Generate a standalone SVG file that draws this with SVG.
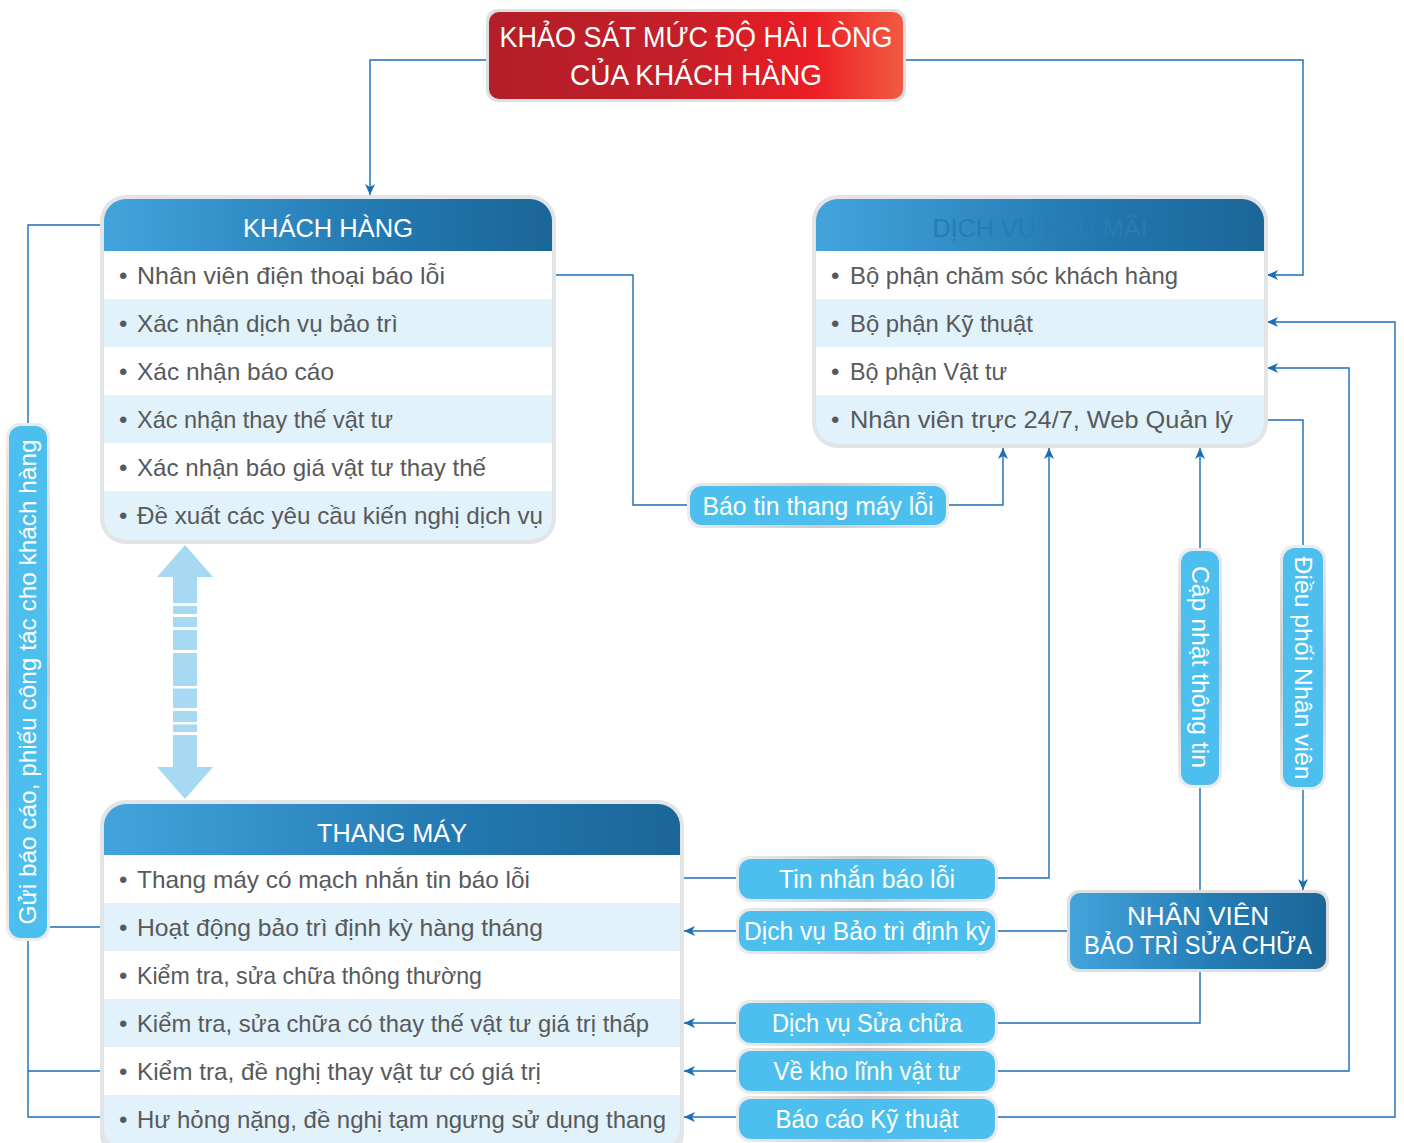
<svg xmlns="http://www.w3.org/2000/svg" width="1404" height="1143" viewBox="0 0 1404 1143">
<defs>
<linearGradient id="red" x1="0" y1="0" x2="1" y2="0">
<stop offset="0" stop-color="#b31e29"/><stop offset="0.45" stop-color="#c41f28"/><stop offset="0.78" stop-color="#ec1d25"/><stop offset="1" stop-color="#f15b42"/>
</linearGradient>
<linearGradient id="hdr" x1="0" y1="0" x2="1" y2="0">
<stop offset="0" stop-color="#43a4dc"/><stop offset="0.6" stop-color="#2379b2"/><stop offset="1" stop-color="#1b6698"/>
</linearGradient>
<linearGradient id="pillH" x1="0" y1="0" x2="1" y2="0">
<stop offset="0" stop-color="#ececec"/><stop offset="0.5" stop-color="#c9cacb"/><stop offset="1" stop-color="#ececec"/>
</linearGradient>
<linearGradient id="pillV" x1="0" y1="0" x2="0" y2="1">
<stop offset="0" stop-color="#ececec"/><stop offset="0.5" stop-color="#c9cacb"/><stop offset="1" stop-color="#ececec"/>
</linearGradient>
<clipPath id="clipKH"><rect x="104" y="199" width="448" height="341" rx="22"/></clipPath>
<clipPath id="clipDV"><rect x="816" y="199" width="448" height="245" rx="22"/></clipPath>
<clipPath id="clipTM"><rect x="104" y="804" width="576" height="346" rx="22"/></clipPath>
<marker id="arr" markerUnits="userSpaceOnUse" markerWidth="12" markerHeight="10" refX="11" refY="5" orient="auto">
<path d="M0,0 L11,5 L0,10 L3,5 z" fill="#1b6db6"/>
</marker>
<style>
.ln{fill:none;stroke:#1b6db6;stroke-width:1.4}
.row{font-family:"Liberation Sans",Arial,sans-serif;font-size:24px;fill:#58595b}
.hd{font-family:"Liberation Sans",Arial,sans-serif;font-size:25px;fill:#ffffff;text-anchor:middle}
.pt{font-family:"Liberation Sans",Arial,sans-serif;font-size:25px;fill:#ffffff;text-anchor:middle}
.border{fill:#e3e4e5}
.blue{fill:#e1f2fa}
.white{fill:#ffffff}
.pill{fill:#4dbfee}
</style>
</defs>
<rect width="1404" height="1143" fill="#ffffff"/>

<g id="connectors">
<polyline class="ln" points="486,60 370,60 370,195" marker-end="url(#arr)"/>
<polyline class="ln" points="906,60 1303,60 1303,275 1267,275" marker-end="url(#arr)"/>
<polyline class="ln" points="28,423 28,225 101,225"/>
<polyline class="ln" points="50,927 101,927"/>
<polyline class="ln" points="28,941 28,1117 101,1117"/>
<polyline class="ln" points="28,1071 101,1071"/>
<polyline class="ln" points="555,275 633,275 633,505 688,505"/>
<polyline class="ln" points="948,505 1003,505 1003,448" marker-end="url(#arr)"/>
<polyline class="ln" points="683,878 737,878"/>
<polyline class="ln" points="998,878 1049,878 1049,448" marker-end="url(#arr)"/>
<polyline class="ln" points="1200,548 1200,448" marker-end="url(#arr)"/>
<polyline class="ln" points="1200,890 1200,788"/>
<polyline class="ln" points="1266,420 1303,420 1303,546"/>
<polyline class="ln" points="1303,790 1303,890" marker-end="url(#arr)"/>
<polyline class="ln" points="1067,931 998,931"/>
<polyline class="ln" points="737,931 684,931" marker-end="url(#arr)"/>
<polyline class="ln" points="1200,972 1200,1023 998,1023"/>
<polyline class="ln" points="737,1023 684,1023" marker-end="url(#arr)"/>
<polyline class="ln" points="998,1071 1349,1071 1349,368 1267,368" marker-end="url(#arr)"/>
<polyline class="ln" points="737,1071 684,1071" marker-end="url(#arr)"/>
<polyline class="ln" points="998,1117 1395,1117 1395,322 1267,322" marker-end="url(#arr)"/>
<polyline class="ln" points="737,1117 684,1117" marker-end="url(#arr)"/>
</g>

<g id="double-arrow">
<polygon points="185,545 213,577 197,577 197,767 213,767 185,799 157,767 173,767 173,577 157,577" fill="#a8d9f3"/>
<g fill="#ffffff">
<rect x="172" y="603" width="26" height="3"/>
<rect x="172" y="614" width="26" height="3"/>
<rect x="172" y="627" width="26" height="3"/>
<rect x="172" y="650" width="26" height="3"/>
<rect x="172" y="686" width="26" height="2.5"/>
<rect x="172" y="708" width="26" height="3"/>
<rect x="172" y="722" width="26" height="2.5"/>
<rect x="172" y="732" width="26" height="3"/>
</g>
</g>

<g id="khao-sat">
<rect x="486" y="9" width="420" height="93" rx="12" fill="#dedfe0"/>
<rect x="489" y="12" width="414" height="87" rx="10" fill="url(#red)"/>
<text class="hd" x="696" y="47" font-size="29" textLength="393" lengthAdjust="spacingAndGlyphs" style="font-size:29px">KHẢO SÁT MỨC ĐỘ HÀI LÒNG</text>
<text class="hd" x="696" y="85" textLength="252" lengthAdjust="spacingAndGlyphs" style="font-size:29px">CỦA KHÁCH HÀNG</text>
</g>

<g id="khach-hang">
<rect class="border" x="100" y="195" width="456" height="349" rx="26"/>
<g clip-path="url(#clipKH)">
<rect x="104" y="199" width="448" height="52" fill="url(#hdr)"/>
<rect class="white" x="104" y="251" width="448" height="48"/>
<rect class="blue" x="104" y="299" width="448" height="48"/>
<rect class="white" x="104" y="347" width="448" height="48"/>
<rect class="blue" x="104" y="395" width="448" height="48"/>
<rect class="white" x="104" y="443" width="448" height="48"/>
<rect class="blue" x="104" y="491" width="448" height="50"/>
</g>
<text class="hd" x="328" y="237" textLength="170" lengthAdjust="spacingAndGlyphs">KHÁCH HÀNG</text>
<g class="row">
<text x="119" y="284">•</text><text x="137" y="284" textLength="308" lengthAdjust="spacingAndGlyphs">Nhân viên điện thoại báo lỗi</text>
<text x="119" y="332">•</text><text x="137" y="332" textLength="261" lengthAdjust="spacingAndGlyphs">Xác nhận dịch vụ bảo trì</text>
<text x="119" y="380">•</text><text x="137" y="380" textLength="197" lengthAdjust="spacingAndGlyphs">Xác nhận báo cáo</text>
<text x="119" y="428">•</text><text x="137" y="428" textLength="256" lengthAdjust="spacingAndGlyphs">Xác nhận thay thế vật tư</text>
<text x="119" y="476">•</text><text x="137" y="476" textLength="349" lengthAdjust="spacingAndGlyphs">Xác nhận báo giá vật tư thay thế</text>
<text x="119" y="524">•</text><text x="137" y="524" textLength="406" lengthAdjust="spacingAndGlyphs">Đề xuất các yêu cầu kiến nghị dịch vụ</text>
</g>
</g>

<g id="dich-vu-hau-mai">
<rect class="border" x="812" y="195" width="456" height="253" rx="26"/>
<g clip-path="url(#clipDV)">
<rect x="816" y="199" width="448" height="52" fill="url(#hdr)"/>
<rect class="white" x="816" y="251" width="448" height="48"/>
<rect class="blue" x="816" y="299" width="448" height="48"/>
<rect class="white" x="816" y="347" width="448" height="48"/>
<rect class="blue" x="816" y="395" width="448" height="50"/>
</g>
<text class="hd" x="1040" y="237" textLength="215" lengthAdjust="spacingAndGlyphs" style="fill:#2a7bb3">DỊCH VỤ HẬU MÃI</text>
<g class="row">
<text x="831" y="284">•</text><text x="850" y="284" textLength="328" lengthAdjust="spacingAndGlyphs">Bộ phận chăm sóc khách hàng</text>
<text x="831" y="332">•</text><text x="850" y="332" textLength="183" lengthAdjust="spacingAndGlyphs">Bộ phận Kỹ thuật</text>
<text x="831" y="380">•</text><text x="850" y="380" textLength="157" lengthAdjust="spacingAndGlyphs">Bộ phận Vật tư</text>
<text x="831" y="428">•</text><text x="850" y="428" textLength="383" lengthAdjust="spacingAndGlyphs">Nhân viên trực 24/7, Web Quản lý</text>
</g>
</g>

<g id="thang-may">
<rect class="border" x="100" y="800" width="584" height="360" rx="26"/>
<g clip-path="url(#clipTM)">
<rect x="104" y="804" width="576" height="51" fill="url(#hdr)"/>
<rect class="white" x="104" y="855" width="576" height="48"/>
<rect class="blue" x="104" y="903" width="576" height="48"/>
<rect class="white" x="104" y="951" width="576" height="48"/>
<rect class="blue" x="104" y="999" width="576" height="48"/>
<rect class="white" x="104" y="1047" width="576" height="48"/>
<rect class="blue" x="104" y="1095" width="576" height="60"/>
</g>
<text class="hd" x="392" y="842" textLength="150" lengthAdjust="spacingAndGlyphs">THANG MÁY</text>
<g class="row">
<text x="119" y="888">•</text><text x="137" y="888" textLength="393" lengthAdjust="spacingAndGlyphs">Thang máy có mạch nhắn tin báo lỗi</text>
<text x="119" y="936">•</text><text x="137" y="936" textLength="406" lengthAdjust="spacingAndGlyphs">Hoạt động bảo trì định kỳ hàng tháng</text>
<text x="119" y="984">•</text><text x="137" y="984" textLength="345" lengthAdjust="spacingAndGlyphs">Kiểm tra, sửa chữa thông thường</text>
<text x="119" y="1032">•</text><text x="137" y="1032" textLength="512" lengthAdjust="spacingAndGlyphs">Kiểm tra, sửa chữa có thay thế vật tư giá trị thấp</text>
<text x="119" y="1080">•</text><text x="137" y="1080" textLength="404" lengthAdjust="spacingAndGlyphs">Kiểm tra, đề nghị thay vật tư có giá trị</text>
<text x="119" y="1128">•</text><text x="137" y="1128" textLength="529" lengthAdjust="spacingAndGlyphs">Hư hỏng nặng, đề nghị tạm ngưng sử dụng thang</text>
</g>
</g>

<g id="nhan-vien">
<rect x="1067" y="890" width="262" height="82" rx="12" fill="#dedfe0"/>
<rect x="1070" y="893" width="256" height="76" rx="10" fill="url(#hdr)"/>
<text class="hd" x="1198" y="925" textLength="142" lengthAdjust="spacingAndGlyphs">NHÂN VIÊN</text>
<text class="hd" x="1198" y="954" textLength="228" lengthAdjust="spacingAndGlyphs">BẢO TRÌ SỬA CHỮA</text>
</g>

<g id="bao-tin">
<rect x="687" y="483" width="262" height="45" rx="14" fill="url(#pillH)"/>
<rect class="pill" x="690" y="486" width="256" height="39" rx="12"/>
<text class="pt" x="818" y="515" textLength="231" lengthAdjust="spacingAndGlyphs">Báo tin thang máy lỗi</text>
</g>

<g id="tin-nhan">
<rect x="736" y="856" width="262" height="46" rx="14" fill="url(#pillH)"/>
<rect class="pill" x="739" y="859" width="256" height="40" rx="12"/>
<text class="pt" x="867" y="888" textLength="176" lengthAdjust="spacingAndGlyphs">Tin nhắn báo lỗi</text>
</g>

<g id="bao-tri">
<rect x="736" y="908" width="262" height="46" rx="14" fill="url(#pillH)"/>
<rect class="pill" x="739" y="911" width="256" height="40" rx="12"/>
<text class="pt" x="867" y="940" textLength="246" lengthAdjust="spacingAndGlyphs">Dịch vụ Bảo trì định kỳ</text>
</g>

<g id="sua-chua">
<rect x="736" y="1000" width="262" height="46" rx="14" fill="url(#pillH)"/>
<rect class="pill" x="739" y="1003" width="256" height="40" rx="12"/>
<text class="pt" x="867" y="1032" textLength="190" lengthAdjust="spacingAndGlyphs">Dịch vụ Sửa chữa</text>
</g>

<g id="ve-kho">
<rect x="736" y="1048" width="262" height="46" rx="14" fill="url(#pillH)"/>
<rect class="pill" x="739" y="1051" width="256" height="40" rx="12"/>
<text class="pt" x="867" y="1080" textLength="187" lengthAdjust="spacingAndGlyphs">Về kho lĩnh vật tư</text>
</g>

<g id="bao-cao-ky-thuat">
<rect x="736" y="1096" width="262" height="46" rx="14" fill="url(#pillH)"/>
<rect class="pill" x="739" y="1099" width="256" height="40" rx="12"/>
<text class="pt" x="867" y="1128" textLength="183" lengthAdjust="spacingAndGlyphs">Báo cáo Kỹ thuật</text>
</g>

<g id="cap-nhat">
<rect x="1178" y="548" width="44" height="240" rx="14" fill="url(#pillV)"/>
<rect class="pill" x="1181" y="551" width="38" height="234" rx="12"/>
<text class="pt" transform="translate(1200,667) rotate(90)" x="0" y="8" textLength="202" lengthAdjust="spacingAndGlyphs" style="font-size:24px">Cập nhật thông tin</text>
</g>

<g id="dieu-phoi">
<rect x="1280" y="545" width="46" height="245" rx="14" fill="url(#pillV)"/>
<rect class="pill" x="1283" y="548" width="40" height="239" rx="12"/>
<text class="pt" transform="translate(1303,668) rotate(90)" x="0" y="8" textLength="223" lengthAdjust="spacingAndGlyphs" style="font-size:24px">Điều phối Nhân viên</text>
</g>

<g id="gui-bao-cao">
<rect x="6" y="423" width="44" height="518" rx="14" fill="url(#pillV)"/>
<rect class="pill" x="9" y="426" width="38" height="512" rx="12"/>
<text class="pt" transform="translate(28,682) rotate(-90)" x="0" y="8" textLength="485" lengthAdjust="spacingAndGlyphs" style="font-size:24px">Gửi báo cáo, phiếu công tác cho khách hàng</text>
</g>
</svg>
